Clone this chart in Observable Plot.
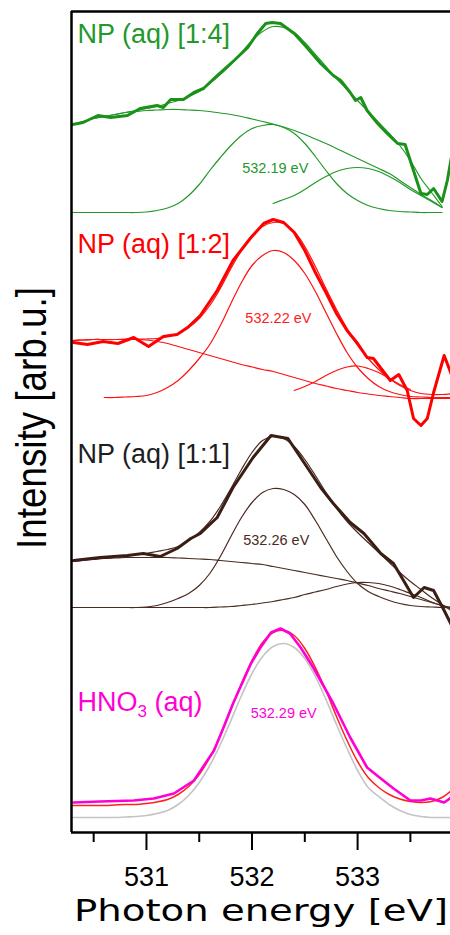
<!DOCTYPE html>
<html><head><meta charset="utf-8">
<script src="https://cdn.jsdelivr.net/npm/d3@7"></script>
<script src="https://cdn.jsdelivr.net/npm/@observablehq/plot@0.6"></script>
<style>body{margin:0;background:#fff;} #chart{width:450px;height:935px;overflow:hidden;}</style>
</head><body><div id="chart"></div>
<script>
// ---- shared energy grid for fitted curves (eV)
const energyGrid = [530.3,530.4,530.5,530.6,530.7,530.8,530.9,531.0,531.1,531.2,531.3,531.4,531.5,531.6,531.7,531.8,531.9,532.0,532.1,532.2,532.3,532.4,532.5,532.6,532.7,532.8,532.9,533.0,533.1,533.2,533.3,533.4,533.5,533.6,533.7,533.8,533.9];

// ---- NP (aq) [1:4]  (green)
const np14DataE = [530.30,530.40,530.54,530.66,530.82,530.94,531.10,531.16,531.23,531.35,531.45,531.54,531.67,531.83,531.96,532.05,532.13,532.19,532.27,532.40,532.52,532.65,532.77,532.84,532.93,532.98,533.03,533.09,533.19,533.28,533.38,533.45,533.52,533.60,533.66,533.72,533.80,533.85,533.90];
const np14Data = [708,710,717,715,717,724,727,725,733,733,740,744,757,772,785,799,809,810,809,799,785,769,757,752,740,732,735,722,709,699,689,688,665,639,638,644,631,652,682];
const np14Envelope = [708,711,714,716,718,720,722,724,726,729,732,736,741,749,758,768,780,792,801,806,805,800,790,778,766,754,743,732,721,710,699,687,672,654,640,626,null];
const np14Background = [708,711,714,716,718,720,721,722,722.5,723,723,722.5,722,721,719.5,718,716,713.5,711,708.5,705.5,702,698,693.5,689,684,679,674,669,664,659,652,645,638,632,625,null];
const np14Peak1 = [620,620,620,620,620,620,620,620.5,622,624.5,629,637,648,662,675,687,697,704,707,708,705,699,689,676,662,649,639,632,627,624,622,621,620.5,620,620,620,null];
const np14Peak2 = [null,null,null,null,null,null,null,null,null,null,null,null,null,null,null,null,null,null,null,629,633,637,643,650,656,661,664,665,664,661,656,650,643,637,631,625,null];

// ---- NP (aq) [1:2]  (red)
const np12DataE = [530.31,530.44,530.59,530.73,530.88,531.02,531.16,531.29,531.39,531.51,531.67,531.82,531.99,532.11,532.20,532.30,532.40,532.50,532.60,532.70,532.80,532.90,533.00,533.09,533.15,533.31,533.39,533.47,533.53,533.60,533.66,533.72,533.82,533.90];
const np12Data = [490,488,491,489,495,486,496,498,505,517,542,572,595,609,613,610,600,582,560,540,519,502,489,475,474,452,458,442,414,407,414,440,477,455];
const np12Envelope = [492,492.5,493,493,493,493.5,493.5,493.5,494,496,499,505,514,527,544,564,582,596,606,610,609,601,586,566,544,523,504,487,474,463,454,447,442,439,438,438,439];
const np12Background = [492,492.5,493,493,493,493,493,492.5,491,489,486,483,480,477,474,471,468,465.5,463,461,458,455,452,449,446.5,444,442,440,438.5,437,436,435,434,434,434,434,434];
const np12Peak1 = [null,null,null,435,435,435.5,436,437,440,445,452,462,474,488,507,529,550,567,577,582,580,572,559,541,520,499,480,465,454,446,441,438,436,435.5,435,435,435];
const np12Peak2 = [null,null,null,null,null,null,null,null,null,null,null,null,null,null,null,null,null,null,null,null,null,442,446,451,457,462,465.5,466.5,464,460,454,448,443,null,null,null,null];

// ---- NP (aq) [1:1]  (brown)
const np11DataE = [530.31,530.56,530.82,530.97,531.13,531.29,531.42,531.51,531.67,531.82,532.01,532.18,532.34,532.46,532.65,532.77,532.93,533.06,533.22,533.34,533.53,533.63,533.72,533.82,533.90];
const np11Data = [272,275,277,279,276,284,294,299,315,345,375,397,394,375,345,329,310,299,279,269,235,245,242,222,205];
const np11Envelope = [272,273,274,275,276,277,278,279,281,283,286,292,300,311,326,344,363,380,392,396,394,386,373,357,340,324,311,300,290,280,270,260,251,243,235,228,221];
const np11Background = [271,272,273,274,274.5,275,275,275,275,275,274.5,274,273.5,273,272,271,270,269,268,266,264,262,260,258,256,254,252,249.5,247,244,241.5,239,236,233,230,227,223];
const np11Peak1 = [225,225,225,225,225,225,225,225.5,227,230,234,239,247,259,276,296,315,330,340,344,343,338,328,312,294,276,261,249,241,236,232,229,227,226,225.5,225,225];
const np11Peak2 = [225,225,225,225,225,225,225,225,225,225,225,225,225,225,225.5,226,227,228,229.5,231,233,235,238,240.5,243,246,248.5,250,250,249,246.5,243,239,235,230.5,227,225];

// ---- HNO3 (aq)  (magenta)
const hno3DataE = [530.31,530.56,530.88,531.07,531.26,531.45,531.64,531.73,531.82,531.99,532.08,532.18,532.27,532.36,532.46,532.58,532.77,532.93,533.09,533.22,533.34,533.50,533.60,533.69,533.82,533.90];
const hno3Data = [30,31,32,34,39,52,82,105,129,169,185,200,204,199,185,165,129,95,65,54,44,32,32,34,30,36];
const hno3Fit = [27,27,27,27,27.5,28,28,29,30.5,33,38,46,58,75,97,123,149,172,190,200,202,197,184,165,142,116,92,71,55,45,38,33.5,31,30,31,35,43];
const hno3Component = [15,15,15,15,15,15.5,16,17,19,22,28,37,50,67,88,112,137,159,176,186,189,185,174,156,133,108,84,62,45,36,28,22,18,16,15,15,15];

// ---- labels
const panelNames = ["NP (aq) [1:4]", "NP (aq) [1:2]", "NP (aq) [1:1]", "HNO3 (aq)"];
const panelNameY = [790, 580, 370, 122];
const peakLabels = ["532.19 eV", "532.22 eV", "532.26 eV", "532.29 eV"];
const peakLabelE = [532.22, 532.25, 532.23, 532.30];
const peakLabelY = [660, 510, 288, 115];
const majorTicks = [531, 532, 533];
const minorTicks = [530.5, 531.5, 532.5, 533.5];
const xDomain = [530.29, 533.88];
const yDomain = [0, 821];

const titleColors = ["#22992a", "#ff0000", "#1e1e1e", "#ff00d4"];
const labelColors = ["#22992a", "#ff1a1a", "#4a2a20", "#ff00d4"];

const pts = (xs, ys) => ys.map((v, i) => ({e: xs[i], v})).filter(d => d.v != null);
const fitLine = (ys, stroke, w = 1.2) => Plot.line(pts(energyGrid, ys), {x: "e", y: "v", stroke, strokeWidth: w, curve: "catmull-rom", clip: true});
const dataLine = (xs, ys, stroke, w = 3) => Plot.line(pts(xs, ys), {x: "e", y: "v", stroke, strokeWidth: w, strokeLinejoin: "round", clip: true});

const G = "#22992a", R = "#ff1010", B = "#3a1d14", M = "#ff00d4";

const marks = [
  // green panel
  fitLine(np14Background, G), fitLine(np14Peak1, G), fitLine(np14Peak2, G), fitLine(np14Envelope, G),
  dataLine(np14DataE, np14Data, "#1a921a"),
  // red panel
  fitLine(np12Background, R), fitLine(np12Peak1, R), fitLine(np12Peak2, R), fitLine(np12Envelope, R),
  dataLine(np12DataE, np12Data, "#ff0000"),
  // brown panel
  fitLine(np11Background, "#4a2a20"), fitLine(np11Peak1, "#4a2a20"), fitLine(np11Peak2, "#4a2a20"), fitLine(np11Envelope, "#4a2a20"),
  dataLine(np11DataE, np11Data, B),
  // HNO3 panel
  fitLine(hno3Component, "#c4c4c4", 1.6),
  fitLine(hno3Fit, "#ff2020", 1.5),
  dataLine(hno3DataE, hno3Data, M, 2.6),
];

panelNames.forEach((t, i) => {
  marks.push(Plot.text([{t, v: panelNameY[i]}], {text: "t", y: "v", frameAnchor: "left", dx: 6, textAnchor: "start", lineAnchor: "bottom", fill: titleColors[i], fontSize: 27}));
  marks.push(Plot.text([{t: peakLabels[i], e: peakLabelE[i], v: peakLabelY[i]}], {text: "t", x: "e", y: "v", textAnchor: "middle", lineAnchor: "bottom", fill: labelColors[i], stroke: "white", strokeWidth: 5, fontSize: 14.5}));
});

marks.push(
  Plot.ruleX([xDomain[0]], {y1: yDomain[0], y2: yDomain[1], stroke: "black", strokeWidth: 2.5}),
  Plot.ruleY(yDomain, {stroke: "black", strokeWidth: 2.5}),
  Plot.axisX({ticks: minorTicks, tickSize: 10, strokeWidth: 2, text: null, label: null}),
  Plot.axisX({ticks: majorTicks, tickSize: 18, tickPadding: 16, strokeWidth: 2, fontSize: 27, fill: "black", tickFormat: d => String(d), label: null}),
  Plot.text(["Photon energy [eV]"], {frameAnchor: "bottom", dy: 88, lineAnchor: "bottom", textAnchor: "middle", fontSize: 30, fontFamily: "DejaVu Sans", fill: "black"}),
  Plot.text(["Intensity [arb.u.]"], {frameAnchor: "left", rotate: -90, dx: -26, dy: -4, lineAnchor: "bottom", textAnchor: "middle", fontSize: 42, fill: "black"})
);

const svg = Plot.plot({
  width: 450, height: 935,
  marginLeft: 71, marginRight: 0, marginTop: 11, marginBottom: 103,
  x: {domain: xDomain, axis: null},
  y: {domain: yDomain, axis: null},
  style: {fontFamily: "Liberation Sans, Arial, sans-serif", fontSize: "27px", background: "white", overflow: "hidden"},
  marks
});
document.getElementById("chart").appendChild(svg);

d3.select(svg).selectAll("text").each(function() {
  const t = this.textContent;
  if (t === "Photon energy [eV]") {
    this.setAttribute("textLength", 374); this.setAttribute("lengthAdjust", "spacingAndGlyphs");
  } else if (t === "Intensity [arb.u.]") {
    this.setAttribute("textLength", 262); this.setAttribute("lengthAdjust", "spacingAndGlyphs");
  } else if (t === "HNO3 (aq)") {
    const el = d3.select(this);
    el.text("");
    el.append("tspan").text("HNO");
    el.append("tspan").attr("font-size", 17).attr("dy", 6).text("3");
    el.append("tspan").attr("dy", -6).text(" (aq)");
  }
});
</script></body></html>
